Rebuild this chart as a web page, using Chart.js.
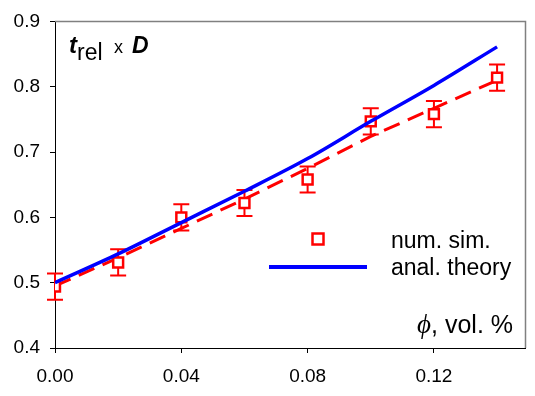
<!DOCTYPE html>
<html>
<head>
<meta charset="utf-8">
<script src="https://cdn.jsdelivr.net/npm/chart.js@4.4.1/dist/chart.umd.min.js"></script>
<style>
  body { margin: 0; background: #fff; }
</style>
</head>
<body>
<canvas id="chart" width="535" height="396"></canvas>
<script>
// volume fraction phi
const phi = [0, 0.02, 0.04, 0.06, 0.08, 0.10, 0.12, 0.14];
// num. sim. points and their error bars
const simValues = [0.494, 0.531, 0.600, 0.622, 0.658, 0.747, 0.758, 0.814];
const simErrors = [0.020, 0.020, 0.020, 0.020, 0.020, 0.020, 0.020, 0.020];
// dashed red fit through the simulations
const fitValues = [0.495, 0.538, 0.583, 0.628, 0.675, 0.724, 0.767, 0.810];
// analytical theory (blue)
const theoryValues = [0.500, 0.544, 0.592, 0.640, 0.690, 0.747, 0.802, 0.861];

const xTicks = [0, 0.04, 0.08, 0.12];
const yTicks = [0.4, 0.5, 0.6, 0.7, 0.8, 0.9];

const RED = "#ff0000";
const BLUE = "#0000ff";
const FONT = "'Liberation Sans', Arial, sans-serif";

const errorBars = {
  id: "errorBars",
  beforeDatasetsDraw(chart) {
    const { ctx, scales: { x, y } } = chart;
    ctx.save();
    ctx.strokeStyle = RED;
    ctx.lineWidth = 2;
    phi.forEach((p, i) => {
      const px = x.getPixelForValue(p);
      const top = y.getPixelForValue(simValues[i] + simErrors[i]);
      const bot = y.getPixelForValue(simValues[i] - simErrors[i]);
      ctx.beginPath();
      ctx.moveTo(px, top); ctx.lineTo(px, bot);
      ctx.moveTo(px - 8, top); ctx.lineTo(px + 8, top);
      ctx.moveTo(px - 8, bot); ctx.lineTo(px + 8, bot);
      ctx.stroke();
    });
    ctx.restore();
  }
};

const frameAndText = {
  id: "frameAndText",
  beforeDatasetsDraw(chart) {
    const { ctx, chartArea: a } = chart;
    ctx.save();
    ctx.strokeStyle = "#808080";
    ctx.lineWidth = 1.5;
    ctx.beginPath();
    ctx.moveTo(a.left, a.top);
    ctx.lineTo(a.right, a.top);
    ctx.lineTo(a.right, a.bottom);
    ctx.stroke();
    ctx.restore();
  },
  afterDraw(chart) {
    const { ctx } = chart;
    ctx.save();
    ctx.fillStyle = "#000";
    ctx.textBaseline = "alphabetic";
    ctx.textAlign = "left";

    // t_rel x D
    ctx.font = "italic bold 24px " + FONT;
    ctx.fillText("t", 69, 53);
    ctx.font = "23px " + FONT;
    ctx.fillText("rel", 77, 60);
    ctx.font = "18px " + FONT;
    ctx.fillText("x", 114, 53);
    ctx.font = "italic bold 23px " + FONT;
    ctx.fillText("D", 132, 53);

    // legend
    ctx.strokeStyle = RED;
    ctx.lineWidth = 2.5;
    ctx.fillStyle = "#fff";
    ctx.fillRect(312.5, 233.5, 11, 11);
    ctx.strokeRect(312.5, 233.5, 11, 11);
    ctx.strokeStyle = BLUE;
    ctx.lineWidth = 4;
    ctx.beginPath();
    ctx.moveTo(269, 267);
    ctx.lineTo(367, 267);
    ctx.stroke();

    ctx.fillStyle = "#000";
    ctx.font = "23px " + FONT;
    ctx.fillText("num. sim.", 391, 248);
    ctx.fillText("anal. theory", 391, 275);

    // axis name: phi, vol. %
    const rest = ", vol. %";
    ctx.font = "25px " + FONT;
    const wRest = ctx.measureText(rest).width;
    ctx.textAlign = "right";
    ctx.fillText(rest, 513, 333);
    ctx.font = "italic 27px 'Liberation Serif', 'DejaVu Serif', serif";
    ctx.fillText("\u03D5", 513 - wRest, 333);
    ctx.restore();
  }
};

new Chart(document.getElementById("chart"), {
  type: "line",
  data: {
    datasets: [
      {
        label: "anal. theory",
        data: phi.map((p, i) => ({ x: p, y: theoryValues[i] })),
        borderColor: BLUE,
        borderWidth: 3.5,
        pointRadius: 0,
        cubicInterpolationMode: "monotone",
        order: 1
      },
      {
        label: "num. sim.",
        data: phi.map((p, i) => ({ x: p, y: simValues[i] })),
        showLine: false,
        pointStyle: "rect",
        pointRadius: 7,
        borderColor: RED,
        backgroundColor: "#fff",
        pointBorderWidth: 2.5,
        order: 2
      },
      {
        label: "fit",
        data: phi.map((p, i) => ({ x: p, y: fitValues[i] })),
        borderColor: RED,
        borderWidth: 3,
        borderDash: [17, 9],
        pointRadius: 0,
        order: 3
      }
    ]
  },
  options: {
    responsive: false,
    animation: false,
    layout: { padding: { top: 16, right: 8, left: 0, bottom: 0 } },
    plugins: {
      legend: { display: false },
      tooltip: { enabled: false }
    },
    scales: {
      x: {
        type: "linear",
        min: 0,
        max: 0.149,
        afterBuildTicks: s => { s.ticks = xTicks.map(v => ({ value: v })); },
        afterFit: s => { s.height = 48; },
        grid: { drawOnChartArea: false, tickLength: 5, color: "#000" },
        border: { color: "#000", width: 1 },
        ticks: {
          padding: 12,
          color: "#000",
          font: { family: FONT, size: 19 },
          callback: v => v.toFixed(2)
        }
      },
      y: {
        min: 0.4,
        max: 0.9,
        afterBuildTicks: s => { s.ticks = yTicks.map(v => ({ value: v })); },
        afterFit: s => { s.width = 55; },
        grid: { drawOnChartArea: false, tickLength: 5, color: "#000" },
        border: { color: "#000", width: 1 },
        ticks: {
          padding: 10,
          color: "#000",
          font: { family: FONT, size: 19 },
          callback: v => v.toFixed(1)
        }
      }
    }
  },
  plugins: [errorBars, frameAndText]
});
</script>
</body>
</html>
